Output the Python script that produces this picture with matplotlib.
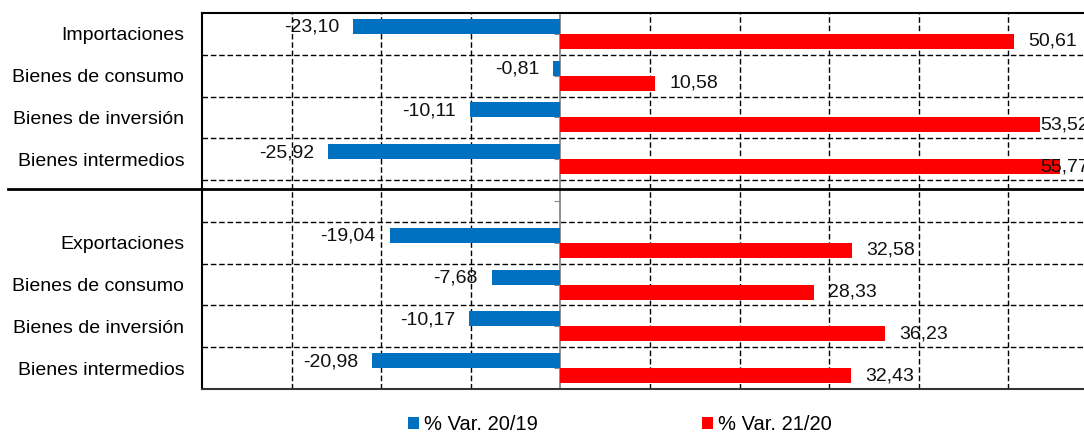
import matplotlib.pyplot as plt
import numpy as np

categories = ["Importaciones", "Bienes de consumo", "Bienes de inversión", "Bienes intermedios",
              "",
              "Exportaciones", "Bienes de consumo", "Bienes de inversión", "Bienes intermedios"]
var_20_19 = [-23.10, -0.81, -10.11, -25.92, None, -19.04, -7.68, -10.17, -20.98]
var_21_20 = [50.61, 10.58, 53.52, 55.77, None, 32.58, 28.33, 36.23, 32.43]
series_names = ["% Var. 20/19", "% Var. 21/20"]


def fmt(v):
    return f"{v:.2f}".replace(".", ",")


def main():
    plt.rcParams["font.family"] = ["Liberation Sans", "DejaVu Sans"]
    plt.rcParams["font.size"] = 14

    fig = plt.figure(figsize=(10.84, 4.34), dpi=100)
    ax = fig.add_axes([0.1863, 0.1037, 0.8266, 0.8664])

    pos = np.arange(len(categories))
    h = 0.36
    idx = [i for i, v in enumerate(var_20_19) if v is not None]
    blue = [var_20_19[i] for i in idx]
    red = [var_21_20[i] for i in idx]
    ypos = pos[idx]

    b1 = ax.barh(ypos - h / 2, blue, height=h, color="#0070C0", label=series_names[0], zorder=3)
    b2 = ax.barh(ypos + h / 2, red, height=h, color="#FF0000", label=series_names[1], zorder=3)

    # value labels
    for y, v in zip(ypos, blue):
        ax.annotate(fmt(v), (v, y - h / 2), xytext=(-14, -1), textcoords="offset pixels",
                    ha="right", va="center", color="#111111", zorder=4)
    for y, v in zip(ypos, red):
        ax.annotate(fmt(v), (min(v, 52.0), y + h / 2), xytext=(14, 0), textcoords="offset pixels",
                    ha="left", va="center", color="#111111", zorder=4, annotation_clip=False)

    ax.set_xlim(-40, 60)
    ax.set_ylim(len(categories) - 0.5, -0.5)

    ax.set_xticks([-30, -20, -10, 10, 20, 30, 40, 50])
    ax.tick_params(axis="x", length=0, labelbottom=False)
    ax.set_yticks(pos)
    ax.set_yticklabels(categories)
    ax.set_yticks(pos[:-1] + 0.5, minor=True)
    ax.tick_params(axis="y", which="major", left=False, right=True, labelleft=True,
                   labelright=False, direction="in", length=4, color="#888888", pad=12.7)
    ax.tick_params(axis="y", which="minor", length=0)

    ax.grid(axis="x", which="major", color="black", linestyle=(0, (4, 2)), linewidth=1, zorder=1)
    ax.grid(axis="y", which="minor", color="black", linestyle=(0, (4, 2)), linewidth=1, zorder=1)

    ax.spines["right"].set_position(("data", 0))
    ax.spines["right"].set_color("#888888")
    ax.spines["right"].set_linewidth(1.3)
    ax.spines["right"].set_zorder(2)
    for s in ["left", "top"]:
        ax.spines[s].set_color("black")
        ax.spines[s].set_linewidth(1.5)
    ax.spines["bottom"].set_color("#333333")
    ax.spines["bottom"].set_linewidth(1.5)

    # thick separator between imports and exports
    fig.add_artist(plt.Line2D([8 / 1084, 1.0], [1 - 189 / 434] * 2, color="black", linewidth=2))

    fig.legend(handles=[b1, b2], loc="center", bbox_to_anchor=(0.5715, 0.021), ncol=2,
               frameon=False, handlelength=0.55, handleheight=0.55, handletextpad=0.25,
               columnspacing=8.15, fontsize=14.5)

    fig.savefig("out.png", dpi=100)


if __name__ == "__main__":
    main()
